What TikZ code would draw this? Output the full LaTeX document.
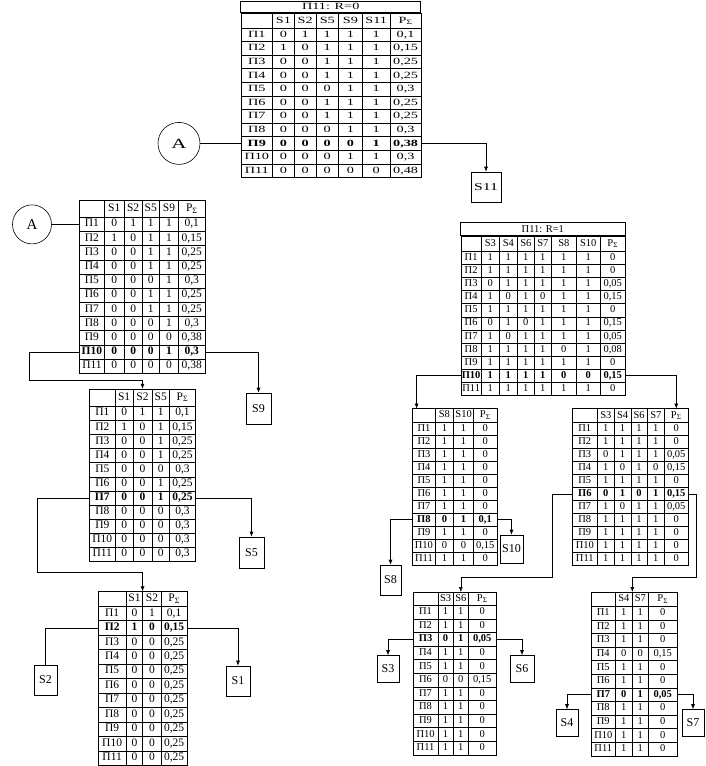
\documentclass[tikz,border=0pt]{standalone}
\usepackage{fontspec}
\setmainfont{Liberation Serif}
\newfontfamily\wide[FakeStretch=1.5]{Liberation Serif}
\usetikzlibrary{matrix,positioning,arrows.meta}

\newcommand{\topf}{\wide\fontsize{9.5}{9.5}\selectfont}
\newcommand{\leftf}{\fontsize{11.5}{11.5}\selectfont}
\newcommand{\rightf}{\fontsize{10.5}{10.5}\selectfont}
\tikzset{
  tabl/.style 2 args={matrix of nodes, anchor=north west, inner sep=0pt, outer sep=0pt,
    column sep=-\pgflinewidth, row sep=-\pgflinewidth, nodes in empty cells,
    nodes={draw, inner sep=0pt, anchor=center, font=#2, text height=7.5pt, text depth=2.3pt, minimum height=#1}},
  sel/.style={nodes={execute at begin node=\bfseries}},
  ttl/.style={draw, inner sep=0pt, outer sep=0pt, anchor=south west},
  sbox/.style={draw, inner sep=0pt, font=\fontsize{12}{12}\selectfont},
  circ/.style={draw, circle, inner sep=0pt, minimum size=#1, font=\fontsize{15}{15}\selectfont},
  arr/.style={-{Latex[length=5pt,width=4pt]}}
}

\begin{document}
\begin{tikzpicture}[x=1pt, y=-1pt, line width=0.6pt]
\useasboundingbox (0,0) rectangle (706,766);

% П11: R=0
\matrix[tabl={13.6pt}{\topf}, row 1/.style={nodes={minimum height=14.8pt}}, row 10/.style={sel},
  column 1/.style={nodes={minimum width=31.6pt}}, column 2/.style={nodes={minimum width=21.7pt}},
  column 3/.style={nodes={minimum width=21.7pt}}, column 4/.style={nodes={minimum width=22.6pt}},
  column 5/.style={nodes={minimum width=23.7pt}}, column 6/.style={nodes={minimum width=28pt}},
  column 7/.style={nodes={minimum width=30.7pt}}] (t0) at (240.7,12.7) {
      & S1 & S2 & S5 & S9 & S11 & P\textsubscript{Σ} \\
  П1  & 0 & 1 & 1 & 1 & 1 & 0,1  \\
  П2  & 1 & 0 & 1 & 1 & 1 & 0,15 \\
  П3  & 0 & 0 & 1 & 1 & 1 & 0,25 \\
  П4  & 0 & 0 & 1 & 1 & 1 & 0,25 \\
  П5  & 0 & 0 & 0 & 1 & 1 & 0,3  \\
  П6  & 0 & 0 & 1 & 1 & 1 & 0,25 \\
  П7  & 0 & 0 & 1 & 1 & 1 & 0,25 \\
  П8  & 0 & 0 & 0 & 1 & 1 & 0,3  \\
  П9  & 0 & 0 & 0 & 0 & 1 & 0,38 \\
  П10 & 0 & 0 & 0 & 1 & 1 & 0,3  \\
  П11 & 0 & 0 & 0 & 0 & 0 & 0,48 \\
};
\node[ttl, font=\topf, minimum width=180pt, minimum height=11.7pt] (t0t) at (t0.north west) {П11: R=0};

% левая ветвь
\matrix[tabl={14.18pt}{\leftf}, row 1/.style={nodes={minimum height=17pt}}, row 11/.style={sel},
  column 1/.style={nodes={minimum width=24.7pt}}, column 2/.style={nodes={minimum width=20pt}},
  column 3/.style={nodes={minimum width=17.7pt}}, column 4/.style={nodes={minimum width=17.6pt}},
  column 5/.style={nodes={minimum width=18.7pt}}, column 6/.style={nodes={minimum width=27pt}}] (t1) at (79.3,200) {
      & S1 & S2 & S5 & S9 & P\textsubscript{Σ} \\
  П1  & 0 & 1 & 1 & 1 & 0,1  \\
  П2  & 1 & 0 & 1 & 1 & 0,15 \\
  П3  & 0 & 0 & 1 & 1 & 0,25 \\
  П4  & 0 & 0 & 1 & 1 & 0,25 \\
  П5  & 0 & 0 & 0 & 1 & 0,3  \\
  П6  & 0 & 0 & 1 & 1 & 0,25 \\
  П7  & 0 & 0 & 1 & 1 & 0,25 \\
  П8  & 0 & 0 & 0 & 1 & 0,3  \\
  П9  & 0 & 0 & 0 & 0 & 0,38 \\
  П10 & 0 & 0 & 0 & 1 & 0,3  \\
  П11 & 0 & 0 & 0 & 0 & 0,38 \\
};

\matrix[tabl={14.1pt}{\leftf}, row 1/.style={nodes={minimum height=17.5pt}}, row 8/.style={sel},
  column 1/.style={nodes={minimum width=26pt}}, column 2/.style={nodes={minimum width=17.7pt}},
  column 3/.style={nodes={minimum width=19pt}}, column 4/.style={nodes={minimum width=17.6pt}},
  column 5/.style={nodes={minimum width=25.7pt}}] (t2) at (89,388.5) {
      & S1 & S2 & S5 & P\textsubscript{Σ} \\
  П1  & 0 & 1 & 1 & 0,1  \\
  П2  & 1 & 0 & 1 & 0,15 \\
  П3  & 0 & 0 & 1 & 0,25 \\
  П4  & 0 & 0 & 1 & 0,25 \\
  П5  & 0 & 0 & 0 & 0,3  \\
  П6  & 0 & 0 & 1 & 0,25 \\
  П7  & 0 & 0 & 1 & 0,25 \\
  П8  & 0 & 0 & 0 & 0,3  \\
  П9  & 0 & 0 & 0 & 0,3  \\
  П10 & 0 & 0 & 0 & 0,3  \\
  П11 & 0 & 0 & 0 & 0,3  \\
};

\matrix[tabl={14.45pt}{\leftf}, row 1/.style={nodes={minimum height=15pt}}, row 3/.style={sel},
  column 1/.style={nodes={minimum width=28.3pt}}, column 2/.style={nodes={minimum width=16.3pt}},
  column 3/.style={nodes={minimum width=18.7pt}}, column 4/.style={nodes={minimum width=25.7pt}}] (t3) at (97.7,591) {
      & S1 & S2 & P\textsubscript{Σ} \\
  П1  & 0 & 1 & 0,1  \\
  П2  & 1 & 0 & 0,15 \\
  П3  & 0 & 0 & 0,25 \\
  П4  & 0 & 0 & 0,25 \\
  П5  & 0 & 0 & 0,25 \\
  П6  & 0 & 0 & 0,25 \\
  П7  & 0 & 0 & 0,25 \\
  П8  & 0 & 0 & 0,25 \\
  П9  & 0 & 0 & 0,25 \\
  П10 & 0 & 0 & 0,25 \\
  П11 & 0 & 0 & 0,25 \\
};

% П11: R=1
\matrix[tabl={13.1pt}{\rightf}, row 1/.style={nodes={minimum height=15.3pt}}, row 11/.style={sel},
  column 1/.style={nodes={minimum width=20.3pt}}, column 2/.style={nodes={minimum width=18pt}},
  column 3/.style={nodes={minimum width=18pt}}, column 4/.style={nodes={minimum width=17pt}},
  column 5/.style={nodes={minimum width=17pt}}, column 6/.style={nodes={minimum width=25pt}},
  column 7/.style={nodes={minimum width=24pt}}, column 8/.style={nodes={minimum width=25pt}}] (t4) at (460.7,235.7) {
      & S3 & S4 & S6 & S7 & S8 & S10 & P\textsubscript{Σ} \\
  П1  & 1 & 1 & 1 & 1 & 1 & 1 & 0    \\
  П2  & 1 & 1 & 1 & 1 & 1 & 1 & 0    \\
  П3  & 0 & 1 & 1 & 1 & 1 & 1 & 0,05 \\
  П4  & 1 & 0 & 1 & 0 & 1 & 1 & 0,15 \\
  П5  & 1 & 1 & 1 & 1 & 1 & 1 & 0    \\
  П6  & 0 & 1 & 0 & 1 & 1 & 1 & 0,15 \\
  П7  & 1 & 0 & 1 & 1 & 1 & 1 & 0,05 \\
  П8  & 1 & 1 & 1 & 1 & 0 & 1 & 0,08 \\
  П9  & 1 & 1 & 1 & 1 & 1 & 1 & 0    \\
  П10 & 1 & 1 & 1 & 1 & 0 & 0 & 0,15 \\
  П11 & 1 & 1 & 1 & 1 & 1 & 1 & 0    \\
};
\node[ttl, font=\rightf, minimum width=164.3pt, minimum height=13.4pt] (t4t) at (t4.north west) {П11: R=1};

% правая ветвь
\matrix[tabl={13.03pt}{\rightf}, row 1/.style={nodes={minimum height=13.4pt}}, row 9/.style={sel},
  column 1/.style={nodes={minimum width=22.7pt}}, column 2/.style={nodes={minimum width=18.3pt}},
  column 3/.style={nodes={minimum width=20pt}}, column 4/.style={nodes={minimum width=23.4pt}}] (t5) at (412.3,408.3) {
      & S8 & S10 & P\textsubscript{Σ} \\
  П1  & 1 & 1 & 0    \\
  П2  & 1 & 1 & 0    \\
  П3  & 1 & 1 & 0    \\
  П4  & 1 & 1 & 0    \\
  П5  & 1 & 1 & 0    \\
  П6  & 1 & 1 & 0    \\
  П7  & 1 & 1 & 0    \\
  П8  & 0 & 1 & 0,1  \\
  П9  & 1 & 1 & 0    \\
  П10 & 0 & 0 & 0,15 \\
  П11 & 1 & 1 & 0    \\
};

\matrix[tabl={13pt}{\rightf}, row 1/.style={nodes={minimum height=13.7pt}}, row 7/.style={sel},
  column 1/.style={nodes={minimum width=25pt}}, column 2/.style={nodes={minimum width=17pt}},
  column 3/.style={nodes={minimum width=16.5pt}}, column 4/.style={nodes={minimum width=16.5pt}},
  column 5/.style={nodes={minimum width=17pt}}, column 6/.style={nodes={minimum width=24pt}}] (t6) at (572,408.3) {
      & S3 & S4 & S6 & S7 & P\textsubscript{Σ} \\
  П1  & 1 & 1 & 1 & 1 & 0    \\
  П2  & 1 & 1 & 1 & 1 & 0    \\
  П3  & 0 & 1 & 1 & 1 & 0,05 \\
  П4  & 1 & 0 & 1 & 0 & 0,15 \\
  П5  & 1 & 1 & 1 & 1 & 0    \\
  П6  & 0 & 1 & 0 & 1 & 0,15 \\
  П7  & 1 & 0 & 1 & 1 & 0,05 \\
  П8  & 1 & 1 & 1 & 1 & 0    \\
  П9  & 1 & 1 & 1 & 1 & 0    \\
  П10 & 1 & 1 & 1 & 1 & 0    \\
  П11 & 1 & 1 & 1 & 1 & 0    \\
};

\matrix[tabl={13.6pt}{\rightf}, row 1/.style={nodes={minimum height=13.3pt}}, row 4/.style={sel},
  column 1/.style={nodes={minimum width=24.5pt}}, column 2/.style={nodes={minimum width=15.5pt}},
  column 3/.style={nodes={minimum width=15pt}}, column 4/.style={nodes={minimum width=28pt}}] (t7) at (413,591.7) {
      & S3 & S6 & P\textsubscript{Σ} \\
  П1  & 1 & 1 & 0    \\
  П2  & 1 & 1 & 0    \\
  П3  & 0 & 1 & 0,05 \\
  П4  & 1 & 1 & 0    \\
  П5  & 1 & 1 & 0    \\
  П6  & 0 & 0 & 0,15 \\
  П7  & 1 & 1 & 0    \\
  П8  & 1 & 1 & 0    \\
  П9  & 1 & 1 & 0    \\
  П10 & 1 & 1 & 0    \\
  П11 & 1 & 1 & 0    \\
};

\matrix[tabl={13.6pt}{\rightf}, row 1/.style={nodes={minimum height=14.3pt}}, row 8/.style={sel},
  column 1/.style={nodes={minimum width=24pt}}, column 2/.style={nodes={minimum width=17pt}},
  column 3/.style={nodes={minimum width=16pt}}, column 4/.style={nodes={minimum width=29pt}}] (t8) at (591,591.7) {
      & S4 & S7 & P\textsubscript{Σ} \\
  П1  & 1 & 1 & 0    \\
  П2  & 1 & 1 & 0    \\
  П3  & 1 & 1 & 0    \\
  П4  & 0 & 0 & 0,15 \\
  П5  & 1 & 1 & 0    \\
  П6  & 1 & 1 & 0    \\
  П7  & 0 & 1 & 0,05 \\
  П8  & 1 & 1 & 0    \\
  П9  & 1 & 1 & 0    \\
  П10 & 1 & 1 & 0    \\
  П11 & 1 & 1 & 0    \\
};

% метки A и переключатели S
\node[circ=42pt, font=\wide\fontsize{14}{14}\selectfont, left=40.7pt of t0-10-1] (a1) {A};
\node[circ=39pt, left=27.8pt of t1-2-1] (a2) {A};
\node[sbox, font=\wide\fontsize{10.5}{10.5}\selectfont, minimum width=30pt, minimum height=30pt] (s11) at (486,187) {S11};
\node[sbox, minimum width=25pt, minimum height=31pt] (s9) at (258.5,408.5) {S9};
\node[sbox, minimum width=25pt, minimum height=31pt] (s5) at (251.5,552.5) {S5};
\node[sbox, minimum width=24pt, minimum height=30pt] (s1) at (238,681) {S1};
\node[sbox, minimum width=23pt, minimum height=30pt] (s2) at (45.5,680) {S2};
\node[sbox, minimum width=21pt, minimum height=30pt] (s8) at (390.5,580) {S8};
\node[sbox, minimum width=23pt, minimum height=28pt] (s10) at (511.5,549) {S10};
\node[sbox, minimum width=22pt, minimum height=27pt] (s3) at (388,669) {S3};
\node[sbox, minimum width=24pt, minimum height=27pt] (s6) at (522,669) {S6};
\node[sbox, minimum width=22pt, minimum height=27pt] (s4) at (567,723) {S4};
\node[sbox, minimum width=22pt, minimum height=27pt] (s7) at (693,723) {S7};

% точки изломов
\coordinate (k1) at (29,380);
\coordinate (k2) at (37.7,572.7);
\coordinate (k3) at (552,577);
\coordinate (k4) at (696,577);

% связи
\draw (a1) -- (t0-10-1.west);
\draw[arr] (t0-10-7.east) -| (s11.north);
\draw (a2) -- (t1-2-1.west);
\draw[arr] (t1-11-1.west) -| (k1) -| (t2-1-3.north);
\draw[arr] (t1-11-6.east) -| (s9.north);
\draw[arr] (t2-8-1.west) -| (k2) -| (t3-1-2.north east);
\draw[arr] (t2-8-5.east) -| (s5.north);
\draw (t3-3-1.west) -| (s2.north);
\draw[arr] (t3-3-4.east) -| (s1.north);

\draw[arr] (t4-11-1.west) -| ([xshift=4pt]t5-1-1.north west);
\draw[arr] (t4-11-8.east) -| (t6-1-6.north);
\draw[arr] (t5-9-1.west) -| (s8.north);
\draw[arr] (t5-9-4.east) -| (s10.north);
\draw[arr] (t6-7-1.west) -| (k3) -| (t7-1-3.north);
\draw[arr] (t6-7-6.east) -| (k4) -| (t8-1-2.north east);
\draw[arr] (t7-4-1.west) -| (s3.north);
\draw[arr] (t7-4-4.east) -| (s6.north);
\draw[arr] (t8-8-1.west) -| (s4.north);
\draw[arr] (t8-8-4.east) -| (s7.north);

\end{tikzpicture}
\end{document}
